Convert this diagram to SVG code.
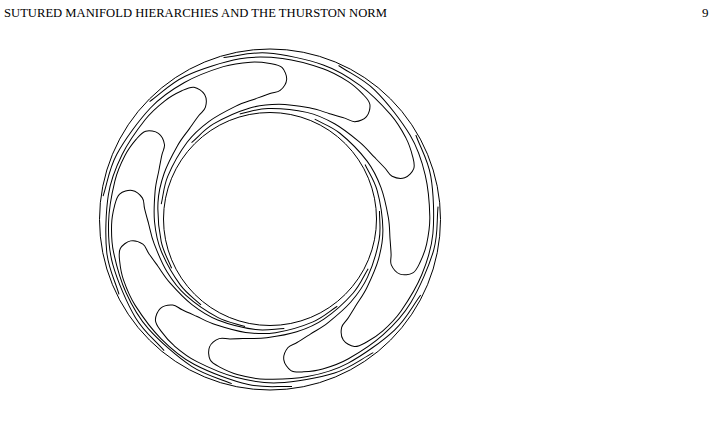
<svg xmlns="http://www.w3.org/2000/svg" xmlns:xlink="http://www.w3.org/1999/xlink" width="715" height="422" viewBox="0 0 715 422">
<style>
.ln{fill:none;stroke:#000;stroke-width:1}
.hd{font-family:"Liberation Serif","Times New Roman",serif;font-size:13px;fill:#000}
</style>
<defs>
<path id="lobe" class="ln" d="M14.7,-167.9 C28.8,-164.1 41.8,-163.6 56.9,-156.5 C71.97,-149.4 92.5,-135.9 105.1,-125.25 C117.7,-114.6 124.8,-104.4 132.3,-92.6 C139.8,-80.8 146.2,-65.5 150.2,-54.65 C154.2,-43.8 155.2,-35.2 156.1,-27.5 C157,-19.8 156.4,-13.45 155.8,-8.2 C155.2,-2.95 155,1.1 152.45,4 C149.9,6.9 144.5,9.4 140.7,9.3 C136.9,9.2 131.9,6.05 129.45,3.4 C127,0.75 127.4,-2.5 125.8,-6.6 C124.2,-10.7 122.1,-15.45 119.65,-21.1 C117.2,-26.75 115.4,-33 111.2,-40.5 C107,-48 101,-58.5 94.6,-66.25 C88.2,-74 82.2,-80.5 72.8,-86.8 C63.4,-93.1 48.5,-100.5 38,-104.3 C27.5,-108.1 19.1,-107.7 9.6,-109.4"/>
</defs>
<g id="header">
<text class="hd" x="4" y="17" textLength="383" lengthAdjust="spacingAndGlyphs">SUTURED MANIFOLD HIERARCHIES AND THE THURSTON NORM</text>
<text class="hd" x="702" y="17">9</text>
</g>
<g id="annulus" transform="translate(270,219.5)">
<circle id="outer-boundary" class="ln" cx="0" cy="0" r="170.5"/>
<circle id="inner-boundary" class="ln" cx="0" cy="-0.5" r="106.5"/>
<g id="lobes">
<use id="lobe-A" href="#lobe" xlink:href="#lobe" transform="rotate(238.6)"/>
<use id="lobe-B" href="#lobe" xlink:href="#lobe" transform="rotate(213.9)"/>
<use id="lobe-C" href="#lobe" xlink:href="#lobe" transform="rotate(188.1)"/>
<use id="lobe-D" href="#lobe" xlink:href="#lobe" transform="rotate(167.5)"/>
<use id="lobe-E" href="#lobe" xlink:href="#lobe" transform="rotate(137.2)"/>
<use id="lobe-F" href="#lobe" xlink:href="#lobe" transform="rotate(111.6)"/>
<use id="lobe-G" href="#lobe" xlink:href="#lobe" transform="rotate(80.6)"/>
<use id="lobe-H" href="#lobe" xlink:href="#lobe" transform="rotate(54.9)"/>
<use id="lobe-I" href="#lobe" xlink:href="#lobe" transform="rotate(19)"/>
<use id="lobe-J" href="#lobe" xlink:href="#lobe" transform="rotate(339)"/>
<use id="lobe-K" href="#lobe" xlink:href="#lobe" transform="rotate(309.4)"/>
<use id="lobe-L" href="#lobe" xlink:href="#lobe" transform="rotate(273)"/>
</g>
</g>
</svg>
